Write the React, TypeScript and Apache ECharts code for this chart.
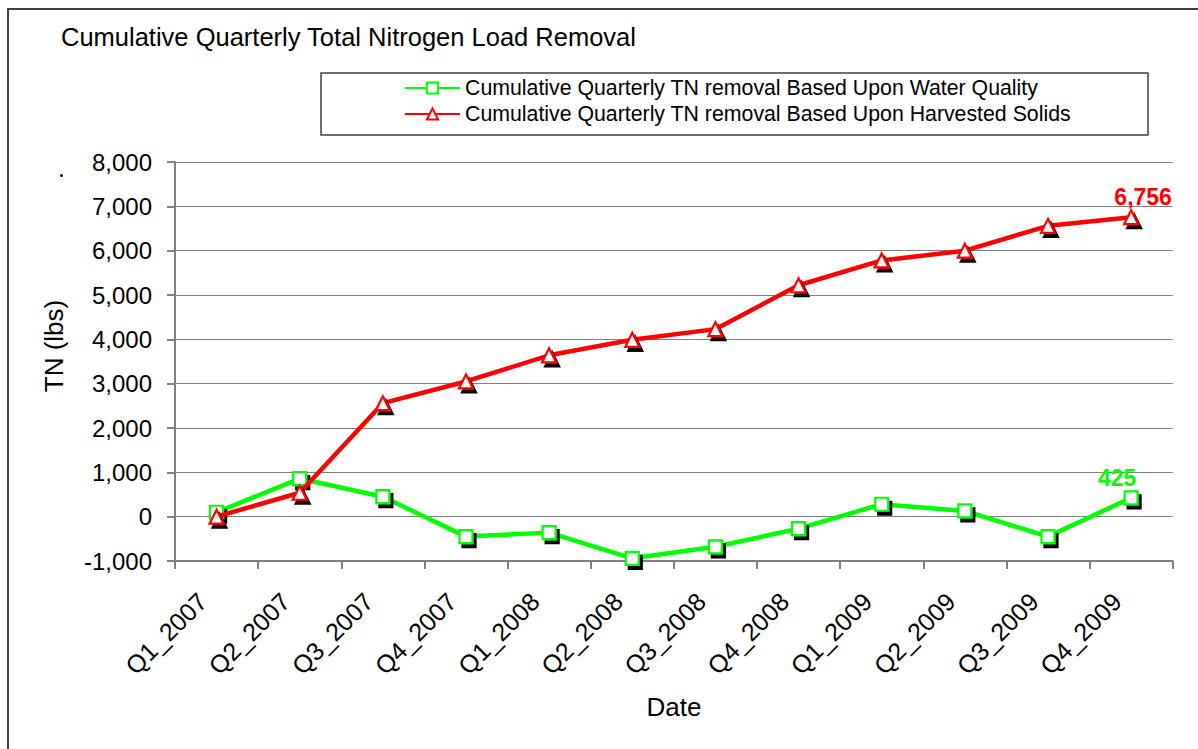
import React, { useEffect, useRef } from "react";
import * as echarts from "echarts";

const categories = [
  "Q1_2007", "Q2_2007", "Q3_2007", "Q4_2007",
  "Q1_2008", "Q2_2008", "Q3_2008", "Q4_2008",
  "Q1_2009", "Q2_2009", "Q3_2009", "Q4_2009",
];
const waterQuality = [100, 860, 450, -450, -360, -940, -680, -270, 280, 130, -450, 425];
const harvestedSolids = [0, 540, 2560, 3050, 3640, 3990, 4230, 5220, 5780, 6000, 6560, 6756];
const seriesNames = [
  "Cumulative Quarterly TN removal Based Upon Water Quality",
  "Cumulative Quarterly TN removal Based Upon Harvested Solids",
];
const yMin = -1000;
const yMax = 8000;
const yStep = 1000;

const FONT = "'Liberation Sans', Arial, Helvetica, sans-serif";
const GREEN = "#00ff00";
const RED = "#ff0000";

function fmt(v: number): string {
  return v.toLocaleString("en-US");
}

export default function App() {
  const ref = useRef<HTMLDivElement>(null);
  useEffect(() => {
    if (!ref.current) return;
    const chart = echarts.init(ref.current, null, { renderer: "svg" });
    const last = categories.length - 1;
    const shadow = { shadowColor: "#000", shadowBlur: 0, shadowOffsetX: 3, shadowOffsetY: 4 };
    chart.setOption({
      animation: false,
      backgroundColor: "#fff",
      textStyle: { fontFamily: FONT },
      grid: { left: 175, right: 25.3, top: 162, bottom: 188, containLabel: false },
      legend: {
        show: true,
        orient: "vertical",
        left: 404,
        top: 77.5,
        padding: 0,
        itemGap: 5,
        itemWidth: 55,
        itemHeight: 14,
        data: seriesNames,
        textStyle: { fontFamily: FONT, fontSize: 21.3, color: "#000", lineHeight: 21 },
        itemStyle: { shadowBlur: 0, shadowOffsetX: 0, shadowOffsetY: 0, shadowColor: "rgba(0,0,0,0)" },
      },
      xAxis: {
        type: "category",
        data: categories,
        boundaryGap: true,
        axisLine: { onZero: false, lineStyle: { color: "#808080", width: 2 } },
        axisTick: { show: true, inside: false, length: 8, alignWithLabel: false, lineStyle: { color: "#808080", width: 2 } },
        axisLabel: {
          rotate: 45,
          margin: 22,
          padding: [0, 20, 0, 0],
          interval: 0,
          fontSize: 25,
          color: "#000",
          fontFamily: FONT,
        },
        splitLine: { show: false },
      },
      yAxis: {
        type: "value",
        min: yMin,
        max: yMax,
        interval: yStep,
        axisLine: { show: true, lineStyle: { color: "#808080", width: 2 } },
        axisTick: { show: true, inside: false, length: 8, lineStyle: { color: "#808080", width: 2 } },
        axisLabel: {
          margin: 23,
          fontSize: 24,
          color: "#000",
          fontFamily: FONT,
          formatter: (v: number) => fmt(v),
        },
        splitLine: { show: true, lineStyle: { color: "#808080", width: 1.2 } },
      },
      series: [
        {
          name: seriesNames[0],
          type: "line",
          data: waterQuality.map((v, i) =>
            i === last
              ? {
                  value: v,
                  label: {
                    show: true,
                    position: "top",
                    distance: 1,
                    offset: [-14, 0],
                    formatter: (p: any) => fmt(p.value),
                    color: GREEN,
                    fontWeight: "bold",
                    fontSize: 23,
                    fontFamily: FONT,
                  },
                }
              : v
          ),
          symbol: "rect",
          symbolSize: 13,
          showAllSymbol: true,
          lineStyle: { color: GREEN, width: 4.5 },
          itemStyle: { color: "#ffffff", borderColor: GREEN, borderWidth: 2.2, ...shadow },
          emphasis: { disabled: true },
          z: 2,
        },
        {
          name: seriesNames[1],
          type: "line",
          data: harvestedSolids.map((v, i) =>
            i === last
              ? {
                  value: v,
                  label: {
                    show: true,
                    position: "top",
                    distance: 1,
                    offset: [12, 0],
                    formatter: (p: any) => fmt(p.value),
                    color: RED,
                    fontWeight: "bold",
                    fontSize: 23,
                    fontFamily: FONT,
                  },
                }
              : v
          ),
          symbol: "triangle",
          symbolSize: 14,
          showAllSymbol: true,
          lineStyle: { color: RED, width: 4.5 },
          itemStyle: { color: "#ffffff", borderColor: RED, borderWidth: 2.2, ...shadow },
          emphasis: { disabled: true },
          z: 3,
        },
      ],
      graphic: [
        {
          type: "rect",
          silent: true,
          shape: { x: 8, y: 9, width: 1400, height: 1000 },
          style: { fill: "none", stroke: "#404040", lineWidth: 2 },
          z: 0,
        },
        {
          type: "rect",
          silent: true,
          shape: { x: 321, y: 73, width: 827, height: 62 },
          style: { fill: "none", stroke: "#404040", lineWidth: 1.5 },
          z: 0,
        },
        {
          type: "text",
          x: 61,
          y: 37,
          style: {
            text: "Cumulative Quarterly Total Nitrogen Load Removal",
            fontSize: 25.5,
            fontFamily: FONT,
            fill: "#000",
            textAlign: "left",
            textVerticalAlign: "middle",
          },
        },
        {
          type: "text",
          x: 54,
          y: 346,
          rotation: Math.PI / 2,
          style: {
            text: "TN (lbs)",
            fontSize: 26,
            fontFamily: FONT,
            fill: "#000",
            textAlign: "center",
            textVerticalAlign: "middle",
          },
        },
        {
          type: "text",
          x: 674,
          y: 707,
          style: {
            text: "Date",
            fontSize: 26,
            fontFamily: FONT,
            fill: "#000",
            textAlign: "center",
            textVerticalAlign: "middle",
          },
        },
        {
          type: "circle",
          silent: true,
          shape: { cx: 61.5, cy: 175.5, r: 1.5 },
          style: { fill: "#000" },
        },
      ],
    });
    return () => chart.dispose();
  }, []);
  return (
    <div
      ref={ref}
      style={{ position: "fixed", left: 0, top: 0, width: 1198, height: 749 }}
    />
  );
}
